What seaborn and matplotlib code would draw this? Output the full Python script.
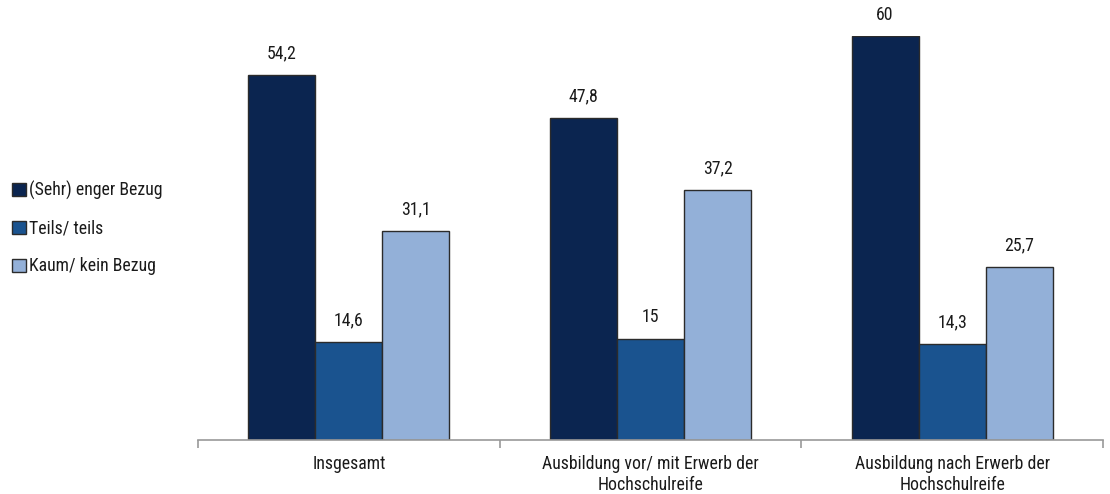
import matplotlib
matplotlib.use("Agg")
import matplotlib.pyplot as plt
import seaborn as sns
import pandas as pd
from matplotlib import font_manager
from matplotlib.patches import Patch

categories = ["Insgesamt", "Ausbildung vor/ mit Erwerb der\nHochschulreife", "Ausbildung nach Erwerb der\nHochschulreife"]
series = ["(Sehr) enger Bezug", "Teils/ teils", "Kaum/ kein Bezug"]
sehr_eng = [54.2, 47.8, 60.0]
teils = [14.6, 15.0, 14.3]
kaum = [31.1, 37.2, 25.7]
value_labels = [["54,2", "47,8", "60"], ["14,6", "15", "14,3"], ["31,1", "37,2", "25,7"]]
colors = ["#0b2550", "#1a538f", "#93b0d8"]

rows = []
for s, vals in zip(series, [sehr_eng, teils, kaum]):
    for c, v in zip(categories, vals):
        rows.append({"cat": c, "series": s, "value": v})
df = pd.DataFrame(rows)

sns.set_style("white")
names = {f.name for f in font_manager.fontManager.ttflist}
fam = "Roboto"
for cand in ["Liberation Sans Narrow", "Roboto Condensed", "Arial Narrow", "Roboto"]:
    if cand in names:
        fam = cand
        break
plt.rcParams["font.family"] = [fam, "DejaVu Sans"]
FS = 12.8
TXT = "#1a1a1a"

fig = plt.figure(figsize=(11.1, 4.94), dpi=100)
ax = fig.add_axes([198/1110, 1-440/494, (1103-198)/1110, (440-36)/494])
sns.barplot(data=df, x="cat", y="value", hue="series", hue_order=series,
            palette=colors, width=0.667, edgecolor="#2b2b2b", linewidth=1.0,
            ax=ax, legend=False, saturation=1)
ax.set_ylim(0, 60)
ax.set_xlim(-0.5, 2.5)

for cont, labs in zip(ax.containers, value_labels):
    ax.bar_label(cont, labels=labs, padding=9, fontsize=FS, color=TXT)

for sp in ["top", "right", "left"]:
    ax.spines[sp].set_visible(False)
ax.spines["bottom"].set_color("#999999")
ax.spines["bottom"].set_linewidth(1.2)
ax.set_yticks([])
ax.set_xlabel("")
ax.set_ylabel("")
ax.set_xticks([0, 1, 2])
ax.set_xticklabels(categories, fontsize=FS, color=TXT, linespacing=1.2)
ax.set_xticks([-0.5, 0.5, 1.5, 2.5], minor=True)
ax.tick_params(axis="x", which="major", length=0, pad=11)
ax.tick_params(axis="x", which="minor", length=6, width=1.2, color="#999999", direction="out", bottom=True)

handles = [Patch(facecolor=c, edgecolor="#2b2b2b", linewidth=1.0) for c in colors]
fig.legend(handles, series, loc="upper left", bbox_to_anchor=(0.0, 1-168/494),
           frameon=False, fontsize=FS, handlelength=0.75, handleheight=0.75,
           handletextpad=0.2, labelspacing=1.12, borderaxespad=0.3, labelcolor=TXT)

fig.savefig("out.png", dpi=100)
